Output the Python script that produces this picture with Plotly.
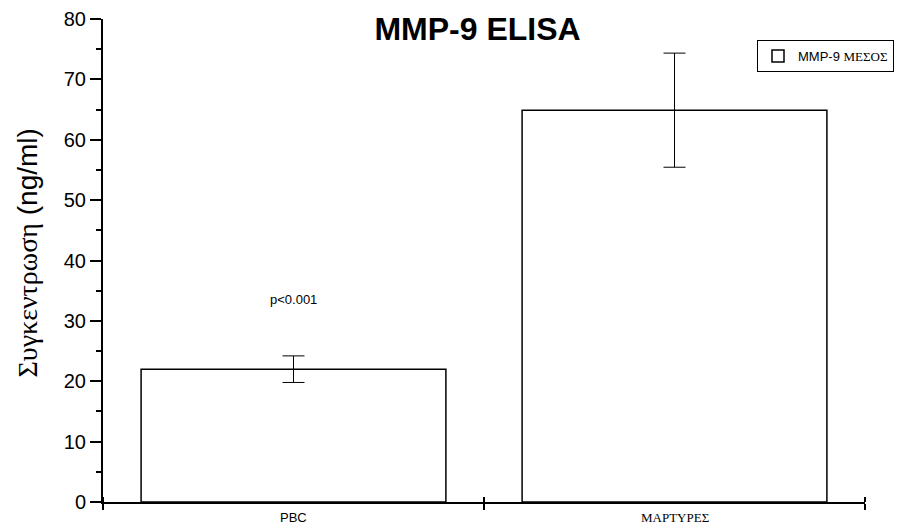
import plotly.graph_objects as go

categories = ["PBC", "ΜΑΡΤΥΡΕΣ"]
means = [22.0, 64.9]
errors = [2.2, 9.45]
label_fonts = ["Arial, Liberation Sans, sans-serif", "Times New Roman, Liberation Serif, serif"]
legend_name = ('MMP-9 <span style="font-family:Times New Roman, Liberation Serif">ΜΕΣΟΣ</span>')
x_pos = list(range(len(categories)))
boundaries = [-0.5, 0.5, 1.5]

SANS = "Arial, Liberation Sans, sans-serif"
SERIF = "Times New Roman, Liberation Serif, serif"

fig = go.Figure()
fig.add_trace(go.Bar(
    x=x_pos, y=means, width=0.8, name=legend_name,
    marker=dict(color="white", line=dict(color="black", width=1.5)),
    error_y=dict(type="data", array=errors, visible=True, color="black", thickness=1, width=11),
    showlegend=True,
))

fig.add_annotation(x=x_pos[0], y=33.5, xref="x", yref="y", text="p<0.001",
                   showarrow=False, font=dict(family=SANS, size=13, color="black"))

for xp, cat, fam in zip(x_pos, categories, label_fonts):
    fig.add_annotation(x=xp, y=0, xref="x", yref="paper", text=cat, showarrow=False,
                       yanchor="top", yshift=-6, font=dict(family=fam, size=13, color="black"))

fig.add_annotation(x=(27 - 103) / 762, y=(502 - 253.5) / 483, xref="paper", yref="paper",
                   text='<span style="font-family:Times New Roman, Liberation Serif">Συγκεντρωση</span> (ng/ml)',
                   textangle=-90, showarrow=False, xanchor="center", yanchor="middle",
                   font=dict(family=SANS, size=28, color="black"))

fig.update_layout(
    template="none",
    width=907, height=529,
    margin=dict(l=103, r=42, t=19, b=27, pad=0),
    paper_bgcolor="white", plot_bgcolor="white",
    title=dict(text="<b>MMP-9 ELISA</b>", x=477.5 / 907, xanchor="center", y=1 - 29 / 529,
               yanchor="middle", font=dict(family=SANS, size=32, color="black")),
    showlegend=True,
    legend=dict(x=(757 - 103) / 762, xanchor="left", y=(502 - 40) / 483, yanchor="top",
                bordercolor="black", borderwidth=1, bgcolor="white",
                font=dict(family=SANS, size=13, color="black"),
                itemwidth=30, tracegroupgap=0),
    xaxis=dict(range=[-0.5, 1.5], tickvals=boundaries, ticktext=["", "", ""],
               showline=True, linecolor="black", linewidth=2, automargin=False,
               ticks="outside", ticklen=6, tickwidth=2, tickcolor="black",
               showgrid=False, zeroline=False, fixedrange=True,
               minor=dict(tick0=-0.5, dtick=1, ticks="inside", ticklen=5, tickwidth=2, tickcolor="black")),
    yaxis=dict(range=[0, 80], dtick=10, showline=True, linecolor="black", linewidth=2, automargin=False,
               ticks="outside", ticklen=11, tickwidth=2, tickcolor="black",
               showgrid=False, zeroline=False, fixedrange=True,
               tickfont=dict(family=SANS, size=20, color="black"),
               minor=dict(dtick=5, ticks="outside", ticklen=5, tickwidth=2, tickcolor="black")),
)

fig.write_html("out.html")
